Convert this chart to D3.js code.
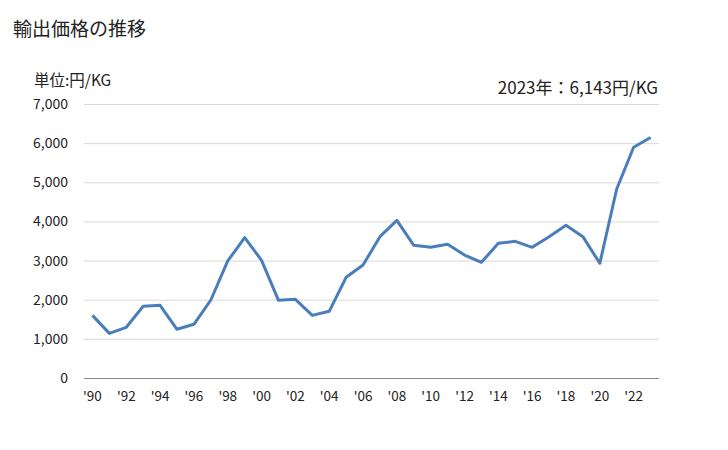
<!DOCTYPE html>
<html><head><meta charset="utf-8">
<script src="https://cdn.jsdelivr.net/npm/d3@7"></script>
<style>body{margin:0;background:#fff;font-family:"Noto Sans CJK JP","Noto Sans",sans-serif;}</style>
</head><body><svg id="c" width="728" height="450"></svg>
<script>
const years = d3.range(1990, 2024);
const values = [1600,1140,1295,1832,1857,1244,1372,1993,2990,3585,3007,1985,2010,1600,1704,2572,2887,3611,4027,3389,3338,3415,3142,2955,3440,3492,3338,3611,3900,3611,2930,4828,5894,6143];
const yTicks = [0,1000,2000,3000,4000,5000,6000,7000];
const title = "輸出価格の推移";
const unit = "単位:円/KG";
const note = "2023年：6,143円/KG";

const svg = d3.select("#c");
const L = 84, R = 659, T = 104, B = 378;
const x = d3.scaleBand().domain(years).range([L, R]);
const y = d3.scaleLinear().domain([0, 7000]).range([B, T]);
const font = "'Noto Sans CJK JP','Noto Sans',sans-serif";

svg.append("text").attr("x", 13).attr("y", 36).attr("font-size", 19).attr("fill", "#222").attr("font-family", font).text(title);
svg.append("text").attr("x", 34).attr("y", 86).attr("font-size", 15.5).attr("fill", "#222").attr("font-family", font).text(unit);
svg.append("text").attr("x", 658).attr("y", 94).attr("text-anchor", "end").attr("font-size", 17).attr("fill", "#222").attr("font-family", font).text(note);

const yAxis = d3.axisLeft(y).tickValues(yTicks).tickSize(-(R - L)).tickFormat(d3.format(","));
const gy = svg.append("g").attr("transform", `translate(${L},0)`).call(yAxis);
gy.select(".domain").remove();
gy.selectAll(".tick line").attr("stroke", d => d === 0 ? "#888" : "#d9d9d9").attr("stroke-width", 1);
gy.selectAll(".tick text").attr("x", -16).attr("font-size", 14).attr("fill", "#222").attr("font-family", font);

const xAxis = d3.axisBottom(x).tickValues(years.filter(d => d % 2 === 0)).tickSize(0).tickFormat(d => "'" + String(d).slice(2));
const gx = svg.append("g").attr("transform", `translate(0,${B})`).call(xAxis);
gx.select(".domain").remove();
gx.selectAll(".tick text").attr("dy", "1.2em").attr("y", 7).attr("font-size", 13.5).attr("fill", "#222").attr("font-family", font);

const line = d3.line().x((d, i) => x(years[i]) + x.bandwidth() / 2).y(d => y(d));
svg.append("path").datum(values).attr("d", line).attr("fill", "none").attr("stroke", "#4a7ebb").attr("stroke-width", 3).attr("stroke-linejoin", "round");
</script></body></html>
